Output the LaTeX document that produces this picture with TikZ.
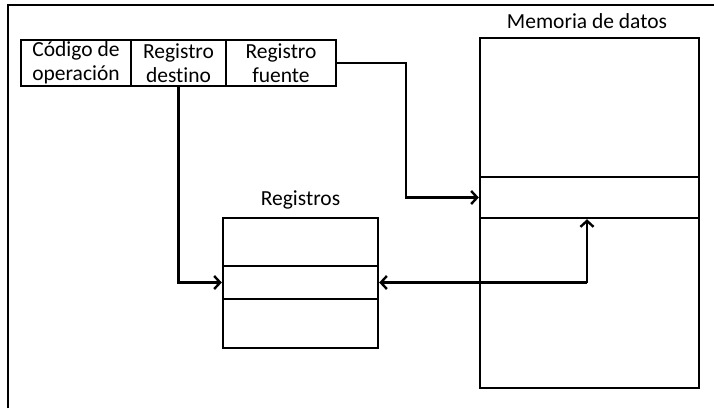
\documentclass[tikz,border=0pt]{standalone}
\usepackage{fontspec}
\setmainfont[RawFeature={-liga}]{Carlito}
\usetikzlibrary{arrows.meta}
\begin{document}
\begin{tikzpicture}[x=1pt,y=-1pt,
  box/.style={draw,line width=2.4pt,rectangle,inner sep=0pt,align=center,
    font=\fontsize{21.5}{23.5}\selectfont},
  lbl/.style={inner sep=0pt,font=\fontsize{21.5}{23.5}\selectfont},
  conn/.style={line width=2.4pt,-{Straight Barb[length=6pt,width=13pt,line width=2.4pt]}},
  frame/.style={line width=1.8pt}]
\useasboundingbox (0,0) rectangle (714,408);
% outer frame (left and top edges)
\coordinate (fTL) at (8,5);
\coordinate (fBL) at (8,408);
\coordinate (fTR) at (714,5);
\draw[frame] (fBL) -- (fTL) -- (fTR);
% instruction fields
\node[box,minimum width=110pt,minimum height=46pt] (cod) at (76,63) {Código de\\operación};
\node[box,minimum width=95pt,minimum height=46pt] (dest) at (178.5,63) {Registro\\destino};
\node[box,minimum width=110pt,minimum height=46pt] (fuente) at (281,63) {Registro\\fuente};
% registers
\node[box,minimum width=155pt,minimum height=130pt] (regs) at (300.5,283) {};
\node[box,minimum width=155pt,minimum height=33pt] (regslot) at (300.5,282.5) {};
\node[lbl] (regslbl) at (300.5,200) {Registros};
% data memory
\node[box,minimum width=219pt,minimum height=350pt] (mem) at (589.5,213) {};
\node[box,minimum width=219pt,minimum height=41pt] (memslot) at (589.5,197.5) {};
\node[lbl] (memlbl) at (587,21) {Memoria de datos};
% connectors
\coordinate (c1) at (406,63);
\draw[conn] (fuente.east) -- (c1) |- (memslot.west);
\draw[conn] (dest.south) |- (regslot.west);
\coordinate (c2) at (587,282.5);
\draw[conn] (c2) -- (regslot.east);
\draw[conn] (c2) -- (c2 |- memslot.south);
\end{tikzpicture}
\end{document}
